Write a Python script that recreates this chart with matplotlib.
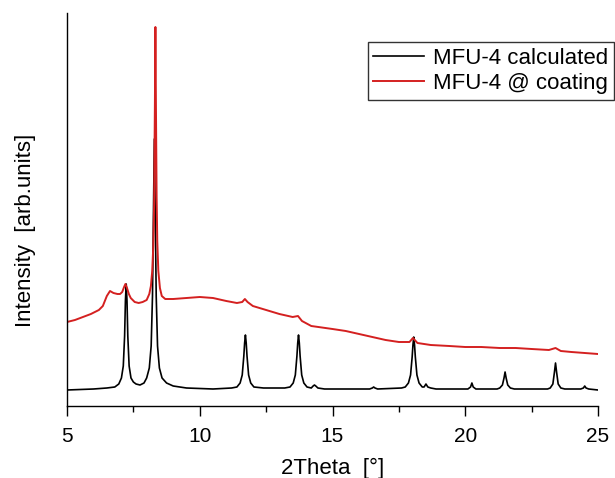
import matplotlib
matplotlib.use("Agg")
import matplotlib.pyplot as plt
from matplotlib.ticker import MultipleLocator

plt.rcParams['font.family'] = ['Liberation Sans', 'DejaVu Sans']

# MFU-4 calculated pattern (2Theta, intensity in arb. units)
tt_calc = [5.0, 6.0, 6.5, 6.8, 6.95, 7.05, 7.12, 7.17, 7.2, 7.23, 7.26, 7.29, 7.34,
           7.41, 7.5, 7.6, 7.75, 7.9, 8.0, 8.1, 8.17, 8.22, 8.255, 8.29, 8.325,
           8.36, 8.41, 8.48, 8.58, 8.75, 9.0, 9.5, 10.5,
           11.2, 11.4, 11.52, 11.6, 11.66, 11.69, 11.72, 11.75, 11.78, 11.84, 11.92,
           12.04, 12.4, 13.2,
           13.4, 13.52, 13.6, 13.66, 13.69, 13.72, 13.75, 13.78, 13.84, 13.92, 14.04,
           14.2, 14.27, 14.32, 14.37, 14.45, 14.7,
           16.4, 16.5, 16.55, 16.6, 16.7, 17.6,
           17.74, 17.86, 17.94, 18.0, 18.03, 18.06, 18.09, 18.12, 18.18, 18.26, 18.38,
           18.45, 18.52, 18.59, 18.7, 18.9,
           20.1, 20.2, 20.25, 20.3, 20.4,
           21.2, 21.3, 21.4, 21.46, 21.5, 21.54, 21.6, 21.7, 21.85,
           23.1, 23.2, 23.3, 23.36, 23.4, 23.44, 23.5, 23.6, 23.75,
           24.35, 24.45, 24.5, 24.55, 24.65, 25.0]
int_calc = [16, 17, 18, 19, 22, 28, 40, 70, 105, 122, 105, 70, 40,
            28, 24, 22, 21, 23, 28, 38, 60, 110, 190, 267, 190,
            110, 60, 38, 28, 23, 20, 18, 17,
            18, 19, 23, 31, 50, 63, 71, 63, 50, 31, 23,
            19, 18, 18,
            19, 23, 31, 50, 63, 71, 63, 50, 31, 23, 19,
            18, 20, 21, 20, 18, 17,
            17, 18, 19, 18, 17, 18,
            19, 23, 31, 49, 61, 69, 61, 49, 31, 23, 19,
            19, 22, 19, 18, 17,
            17, 19, 23, 19, 17,
            17, 18, 21, 28, 34, 28, 21, 18, 17,
            17, 18, 22, 34, 43, 34, 22, 18, 17,
            17, 18, 20, 18, 17, 16]

# MFU-4 @ coating measured pattern
tt_coat = [5.0, 5.3, 5.6, 5.9, 6.2, 6.35, 6.5, 6.62, 6.75, 6.9, 7.0, 7.08, 7.15, 7.2,
           7.26, 7.33, 7.4, 7.55, 7.7, 7.85, 8.0, 8.1, 8.16, 8.21, 8.25, 8.28, 8.31,
           8.33, 8.35, 8.375, 8.4, 8.44, 8.5, 8.57, 8.7, 9.0, 9.5, 10.0, 10.5, 11.0,
           11.4, 11.6, 11.7, 11.8, 12.0, 12.5, 13.0, 13.5, 13.7, 13.85, 14.2, 15.0,
           15.5, 16.0, 16.5, 17.0, 17.5, 17.9, 18.03, 18.2, 18.7, 19.4, 20.0, 20.6,
           21.3, 21.9, 22.5, 23.15, 23.4, 23.6, 24.0, 24.5, 25.0]
int_coat = [84, 86, 89, 92, 96, 100, 110, 115, 113, 112, 112, 114, 119, 122,
            118, 112, 108, 104, 103, 104, 106, 112, 120, 135, 160, 200, 300,
            379, 300, 210, 165, 135, 118, 110, 107, 107, 108, 109, 108, 105,
            103, 104, 107, 104, 100, 96, 92, 89, 90, 85, 80, 77,
            75, 72, 69, 66, 64, 64, 68, 63, 61, 60, 59, 59,
            58, 58, 57, 56, 58, 55, 54, 53, 52]

labels = ["MFU-4 calculated", "MFU-4 @ coating"]
xticks = [5, 10, 15, 20, 25]

fig = plt.figure(figsize=(6.15, 4.78), dpi=100)
ax = fig.add_axes([67/615, 1 - 406/478, (598-67)/615, (406-13)/478])

ax.plot(tt_calc, int_calc, color='black', lw=1.2, label=labels[0])
ax.plot(tt_coat, int_coat, color='#d42020', lw=1.4, label=labels[1])

ax.set_xlim(5, 25)
ax.set_ylim(0, 393)
ax.set_xticks(xticks)
ax.set_xticklabels([str(t) for t in xticks])
ax.xaxis.set_minor_locator(MultipleLocator(2.5))
ax.set_yticks([])
ax.spines['top'].set_visible(False)
ax.spines['right'].set_visible(False)
ax.spines['left'].set_linewidth(1.0)
ax.spines['bottom'].set_linewidth(1.0)
ax.tick_params(axis='x', which='major', direction='out', length=7, width=1.0,
               labelsize=15, pad=8)
ax.tick_params(axis='x', which='minor', direction='out', length=4, width=1.0)

ax.set_xlabel("2Theta  [°]", fontsize=16, labelpad=9)
ax.set_ylabel("Intensity  [arb.units]", fontsize=16)
ax.yaxis.set_label_coords(-0.058, 0.446)

leg = ax.legend(loc='upper right', bbox_to_anchor=(614/615, 1 - 42/478),
                bbox_transform=fig.transFigure, borderaxespad=0,
                fontsize=16, frameon=True, fancybox=False, framealpha=1,
                edgecolor='#333333', handlelength=2.3, handletextpad=0.4,
                labelspacing=0.2, borderpad=0.25)
leg.get_frame().set_linewidth(1.0)

fig.savefig("out.png", dpi=100)
